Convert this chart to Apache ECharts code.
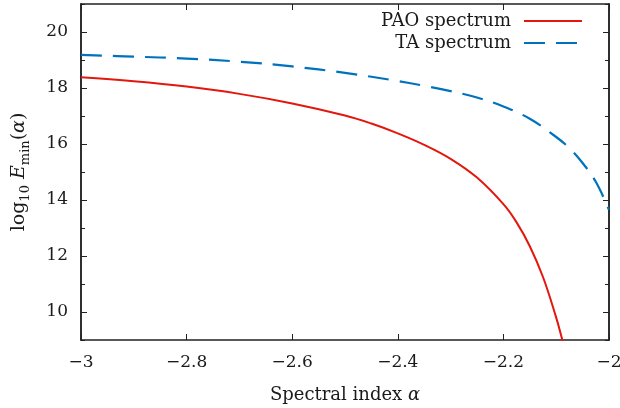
<!DOCTYPE html>
<html>
<head>
<meta charset="utf-8">
<script src="https://cdn.jsdelivr.net/npm/echarts@6/dist/echarts.min.js"></script>
<style>
html,body{margin:0;padding:0;background:#fff;}
#chart{width:620px;height:408px;}
</style>
</head>
<body>
<div id="chart"></div>
<script>
// ---- data ----
var seriesNames = ['PAO spectrum', 'TA spectrum'];
var paoAlpha = [-3.00, -2.90, -2.80, -2.70, -2.60, -2.50, -2.45, -2.40, -2.35, -2.30, -2.25, -2.20, -2.175, -2.15, -2.125, -2.10, -2.09, -2.08];
var paoLogE  = [18.38, 18.24, 18.05, 17.79, 17.45, 17.02, 16.73, 16.38, 15.97, 15.47, 14.80, 13.85, 13.20, 12.35, 11.25, 9.80, 9.12, 8.40];
var taAlpha  = [-3.00, -2.90, -2.80, -2.70, -2.60, -2.50, -2.40, -2.35, -2.30, -2.25, -2.20, -2.15, -2.10, -2.075, -2.05, -2.025, -2.00];
var taLogE   = [19.18, 19.12, 19.05, 18.94, 18.77, 18.54, 18.25, 18.08, 17.89, 17.66, 17.34, 16.90, 16.25, 15.85, 15.32, 14.65, 13.65];
var xTicks = [-3, -2.8, -2.6, -2.4, -2.2, -2];
var yTicks = [10, 12, 14, 16, 18, 20];
var yMinorTicks = [9, 11, 13, 15, 17, 19, 21];

function pairs(xs, ys) { return xs.map(function (x, i) { return [x, ys[i]]; }); }

var FONT = 'DejaVu Serif';
var INK = '#1a1a1a';
var AX = '#222';

var chart = echarts.init(document.getElementById('chart'), null, {renderer: 'canvas'});

function yAx(pos, ticks, len, labels, name) {
  var o = {
    type: 'value', position: pos, min: 9, max: 21,
    axisLine: {show: true, onZero: false, lineStyle: {color: AX, width: 1.5}},
    axisTick: {show: true, inside: true, length: len, customValues: ticks, lineStyle: {color: AX, width: 1}},
    axisLabel: labels ? {show: true, customValues: ticks, margin: 13, color: INK, fontFamily: FONT, fontSize: 17} : {show: false},
    splitLine: {show: false}
  };
  if (name) {
    o.name = '{a|log}{s|10}{a| }{i|E}{s|min}{a|(}{i|α}{a|)}';
    o.nameLocation = 'middle';
    o.nameGap = 49;
    o.nameTextStyle = {
      color: INK, fontFamily: FONT, fontSize: 19,
      rich: {
        a: {fontFamily: FONT, fontSize: 19, color: INK, verticalAlign: 'top'},
        i: {fontFamily: FONT, fontSize: 19, color: INK, fontStyle: 'italic', verticalAlign: 'top'},
        s: {fontFamily: FONT, fontSize: 13, color: INK, verticalAlign: 'top', padding: [9, 0, 0, 0]}
      }
    };
  }
  return o;
}

function xAx(pos, labels, name) {
  var o = {
    type: 'value', position: pos, min: -3, max: -2, interval: 0.2,
    axisLine: {show: true, onZero: false, lineStyle: {color: AX, width: 1.5}},
    axisTick: {show: true, inside: true, length: 6, lineStyle: {color: AX, width: 1}},
    axisLabel: labels ? {
      show: true, margin: 14, color: INK, fontFamily: FONT, fontSize: 17, showMinLabel: true, showMaxLabel: true,
      formatter: function (v) {
        var r = Math.round(v * 10) / 10;
        return (r < 0 ? '\u2212' : '') + String(Math.abs(r));
      }
    } : {show: false},
    splitLine: {show: false}
  };
  if (name) {
    o.name = '{a|' + name + ' }{i|\u03b1}';
    o.nameLocation = 'middle';
    o.nameGap = 46;
    o.nameTextStyle = {
      color: INK, fontFamily: FONT, fontSize: 18,
      rich: {
        a: {fontFamily: FONT, fontSize: 18, color: INK},
        i: {fontFamily: FONT, fontSize: 18, color: INK, fontStyle: 'italic'}
      }
    };
  }
  return o;
}

chart.setOption({
  animation: false,
  backgroundColor: '#fff',
  grid: {left: 81, right: 11, top: 4, bottom: 68, containLabel: false, outerBoundsMode: 'none'},
  legend: {
    data: seriesNames,
    orient: 'vertical',
    align: 'right',
    right: 37,
    top: 12,
    itemWidth: 58,
    itemHeight: 14,
    itemGap: 4,
    padding: 0,
    itemStyle: {opacity: 0},
    textStyle: {fontFamily: FONT, fontSize: 18, color: INK, padding: [0, 8, 0, 0]},
    selectedMode: false
  },
  xAxis: [xAx('bottom', true, 'Spectral index'), xAx('top', false)],
  yAxis: [
    yAx('left', yTicks, 6, true, true),
    yAx('right', yTicks, 6, false),
    yAx('left', yMinorTicks, 4, false),
    yAx('right', yMinorTicks, 4, false)
  ],
  series: [
    {
      name: seriesNames[0], type: 'line', xAxisIndex: 0, yAxisIndex: 0,
      data: pairs(paoAlpha, paoLogE), symbol: 'none', smooth: 0.4,
      clip: true, silent: true,
      lineStyle: {color: '#e3170d', width: 2},
      itemStyle: {color: '#e3170d'}
    },
    {
      name: seriesNames[1], type: 'line', xAxisIndex: 0, yAxisIndex: 0,
      data: pairs(taAlpha, taLogE), symbol: 'none', smooth: 0.4,
      clip: true, silent: true,
      lineStyle: {color: '#0072bd', width: 2.2, type: [21, 11]},
      itemStyle: {color: '#0072bd'}
    }
  ]
});
</script>
</body>
</html>
